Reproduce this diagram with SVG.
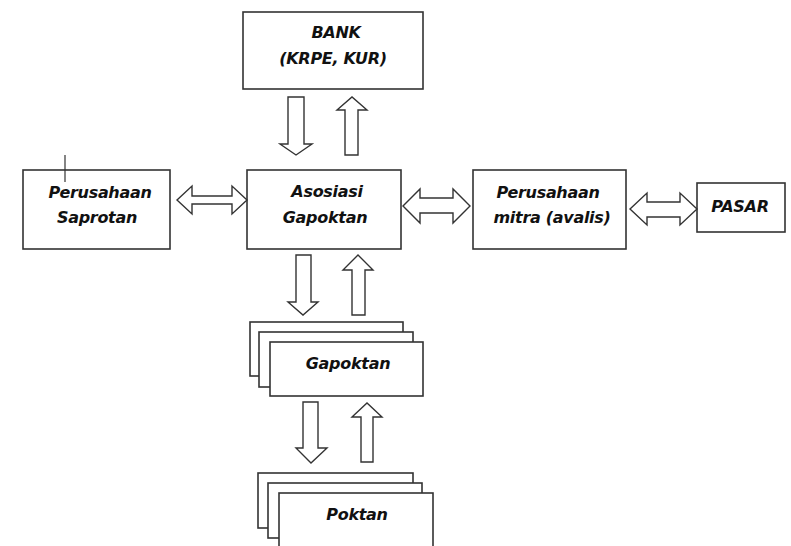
<svg xmlns="http://www.w3.org/2000/svg" width="791" height="546" viewBox="0 0 791 546">
<style>
.box{fill:#fff;stroke:#333;stroke-width:1.6}
.arr{fill:#fff;stroke:#333;stroke-width:1.4;stroke-linejoin:miter}
.t{font-family:"DejaVu Sans",Verdana,sans-serif;font-weight:bold;font-style:italic;font-size:16px;fill:#111;text-anchor:middle;letter-spacing:-0.3px}
</style>
<rect width="791" height="546" fill="#fff"/>
<g id="bank">
<rect class="box" x="243" y="12" width="180" height="77"/>
<text class="t" x="336" y="38">BANK</text>
<text class="t" x="333" y="64">(KRPE, KUR)</text>
</g>
<g id="saprotan">
<rect class="box" x="23" y="170" width="147" height="79"/>
<line x1="65" y1="155" x2="65" y2="182" stroke="#333" stroke-width="1.2"/>
<text class="t" x="100" y="198">Perusahaan</text>
<text class="t" x="97" y="223">Saprotan</text>
</g>
<g id="asosiasi">
<rect class="box" x="247" y="170" width="154" height="79"/>
<text class="t" x="327" y="197">Asosiasi</text>
<text class="t" x="325" y="223">Gapoktan</text>
</g>
<g id="mitra">
<rect class="box" x="473" y="170" width="153" height="79"/>
<text class="t" x="548" y="198">Perusahaan</text>
<text class="t" x="552" y="223">mitra (avalis)</text>
</g>
<g id="pasar">
<rect class="box" x="697" y="183" width="88" height="49"/>
<text class="t" x="740" y="212">PASAR</text>
</g>
<g id="gapoktan">
<rect class="box" x="250" y="322" width="153" height="54"/>
<rect class="box" x="259" y="332" width="154" height="55"/>
<rect class="box" x="270" y="342" width="153" height="54"/>
<text class="t" x="348" y="369">Gapoktan</text>
</g>
<g id="poktan">
<rect class="box" x="258" y="473" width="155" height="55"/>
<rect class="box" x="268" y="483" width="154" height="55"/>
<rect class="box" x="279" y="493" width="154" height="60"/>
<text class="t" x="357" y="520">Poktan</text>
</g>
<g id="connectors">
<polygon class="arr" points="288,97 304,97 304,144 312,144 296,155 280,144 288,144"/>
<polygon class="arr" points="345,155 358,155 358,110 367,110 352,97 337,110 345,110"/>
<polygon class="arr" points="296,255 311,255 311,302 318,302 303,315 288,302 296,302"/>
<polygon class="arr" points="352,315 365,315 365,270 373,270 358,255 343,270 352,270"/>
<polygon class="arr" points="303,402 318,402 318,448 327,448 311,463 296,448 303,448"/>
<polygon class="arr" points="361,462 373,462 373,417 382,417 367,403 352,417 361,417"/>
<polygon class="arr" points="177,200 192,186 192,196 232,196 232,186 247,200 232,214 232,204 192,204 192,214"/>
<polygon class="arr" points="403,206 420,189 420,198 453,198 453,189 470,206 453,223 453,213 420,213 420,223"/>
<polygon class="arr" points="630,209 647,193 647,202 680,202 680,193 697,209 680,225 680,217 647,217 647,225"/>
</g>
</svg>
